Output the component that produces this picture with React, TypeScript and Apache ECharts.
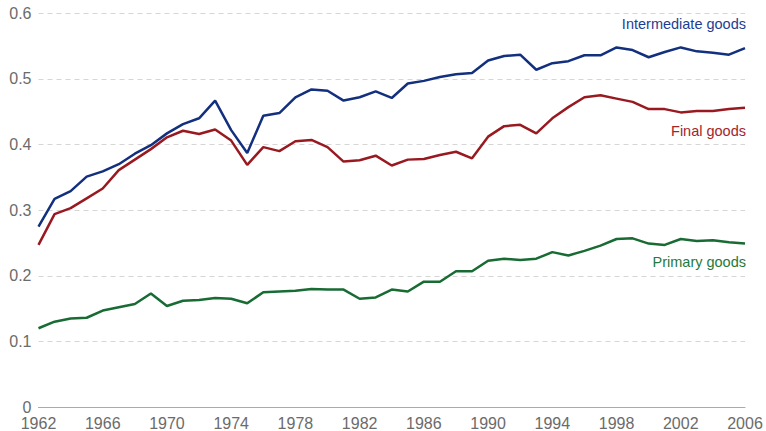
import React, { useEffect, useRef } from "react";
import * as echarts from "echarts";

const years: string[] = [];
for (let y = 1962; y <= 2006; y++) years.push(String(y));

const intermediateGoods = [
  0.275, 0.317, 0.329, 0.351, 0.359, 0.370, 0.386, 0.399, 0.417, 0.431, 0.440, 0.467,
  0.422, 0.387, 0.444, 0.448, 0.472, 0.484, 0.482, 0.467, 0.472, 0.481, 0.471,
  0.493, 0.497, 0.503, 0.507, 0.509, 0.528, 0.535, 0.537, 0.514, 0.524, 0.527,
  0.536, 0.536, 0.548, 0.544, 0.533, 0.541, 0.548, 0.542, 0.540, 0.537, 0.547,
];

const finalGoods = [
  0.247, 0.294, 0.303, 0.318, 0.333, 0.361, 0.377, 0.393, 0.411, 0.421, 0.416, 0.423,
  0.406, 0.369, 0.396, 0.390, 0.405, 0.407, 0.396, 0.374, 0.376, 0.383, 0.368,
  0.377, 0.378, 0.384, 0.389, 0.379, 0.412, 0.428, 0.430, 0.417, 0.440, 0.457,
  0.472, 0.475, 0.470, 0.465, 0.454, 0.454, 0.449, 0.451, 0.451, 0.454, 0.456,
];

const primaryGoods = [
  0.120, 0.130, 0.135, 0.136, 0.147, 0.152, 0.157, 0.173, 0.154, 0.162, 0.163, 0.166,
  0.165, 0.158, 0.175, 0.176, 0.177, 0.180, 0.179, 0.179, 0.165, 0.167, 0.179,
  0.176, 0.191, 0.191, 0.207, 0.207, 0.223, 0.226, 0.224, 0.226, 0.236, 0.231,
  0.238, 0.246, 0.256, 0.257, 0.249, 0.247, 0.256, 0.253, 0.254, 0.251, 0.249,
];

const seriesNames = ["Intermediate goods", "Final goods", "Primary goods"];
const seriesColors = ["#13307f", "#981a20", "#176b33"];
const labelColors = ["#1d3d92", "#a2252b", "#1f7a3e"];

const FONT = '"Liberation Sans", Arial, Helvetica, sans-serif';

export default function App() {
  const ref = useRef<HTMLDivElement>(null);

  useEffect(() => {
    if (!ref.current) return;
    const chart = echarts.init(ref.current, undefined, { renderer: "svg" });
    const dataSets = [intermediateGoods, finalGoods, primaryGoods];
    const labelY = [24, 131, 262];
    chart.setOption({
      animation: false,
      textStyle: { fontFamily: FONT },
      grid: { left: 38.5, right: 21, top: 13.3, bottom: 23.7 },
      xAxis: {
        type: "category",
        data: years,
        boundaryGap: false,
        axisLine: { show: true, lineStyle: { color: "#aaaaaa", width: 1 } },
        axisTick: { show: false },
        axisLabel: {
          interval: 3,
          color: "#6b6b6b",
          fontSize: 16,
          margin: 8,
          fontFamily: FONT,
        },
        splitLine: { show: false },
      },
      yAxis: {
        type: "value",
        min: 0,
        max: 0.6,
        interval: 0.1,
        axisLine: { show: false },
        axisTick: { show: false },
        axisLabel: {
          color: "#6b6b6b",
          fontSize: 16,
          margin: 7,
          fontFamily: FONT,
          formatter: (v: number) => (v === 0 ? "0" : v.toFixed(1)),
        },
        splitLine: {
          show: true,
          lineStyle: { color: "#d6d6d6", type: [5, 4], width: 1 },
        },
      },
      series: dataSets.map((d, i) => ({
        name: seriesNames[i],
        type: "line",
        data: d,
        symbol: "none",
        lineStyle: { color: seriesColors[i], width: 2.5 },
        itemStyle: { color: seriesColors[i] },
        z: 3,
      })),
      graphic: seriesNames.map((name, i) => ({
        type: "text",
        right: 20,
        top: labelY[i] - 8,
        style: {
          text: name,
          fill: labelColors[i],
          fontSize: 14.5,
          fontFamily: FONT,
        },
      })),
    });
    return () => chart.dispose();
  }, []);

  return (
    <div
      ref={ref}
      style={{ position: "absolute", left: 0, top: 0, width: 766, height: 431, background: "#fff" }}
    />
  );
}
